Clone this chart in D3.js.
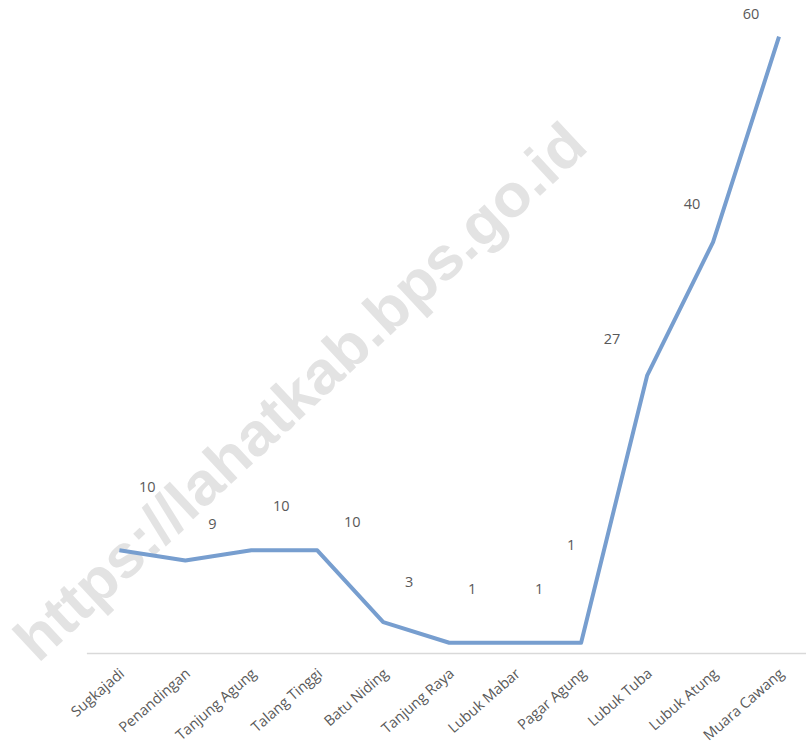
<!DOCTYPE html>
<html>
<head>
<meta charset="utf-8">
<script src="https://cdn.jsdelivr.net/npm/d3@7"></script>
<style>
  body { margin: 0; background: #fff; }
  svg { display: block; }
  .cat text { font-family: "Open Sans", "Noto Sans", sans-serif; font-size: 14.5px; fill: #595959; }
  .dlabel { font-family: "Open Sans", "Noto Sans", sans-serif; font-size: 14.5px; fill: #595959; }
</style>
</head>
<body>
<div id="chart"></div>
<script>
// chart data
var villages = ["Sugkajadi", "Penandingan", "Tanjung Agung", "Talang Tinggi", "Batu Niding",
  "Tanjung Raya", "Lubuk Mabar", "Pagar Agung", "Lubuk Tuba", "Lubuk Atung", "Muara Cawang"];
var counts = [10, 9, 10, 10, 3, 1, 1, 1, 27, 40, 60];

// data labels were dragged around by hand in the source, so keep their nudges here
var labelNudge = [[28, -63], [27, -37], [30, -44], [35, -28], [26, -40], [23, -54],
  [24, -54], [-10, -98], [-35, -37], [-21, -38], [-28, -23]];

var width = 806;
var height = 748;

var svg = d3.select("#chart")
  .append("svg")
  .attr("width", width)
  .attr("height", height);

// watermark behind everything
var wm = svg.append("text")
  .attr("transform", "translate(38,664) rotate(-43)")
  .attr("font-family", "Liberation Sans, Arial, sans-serif")
  .attr("font-weight", "bold")
  .attr("font-size", 60)
  .attr("fill", "#e3e3e3")
  .text("https://lahatkab.bps.go.id");
wm.attr("textLength", 755).attr("lengthAdjust", "spacingAndGlyphs");

// scales
var xScale = d3.scaleBand()
  .domain(villages)
  .range([86.4, 812]);

var yScale = d3.scaleLinear()
  .domain([0, 60])
  .range([653, 36.7]);

function cx(i) {
  return xScale(villages[i]) + xScale.bandwidth() / 2;
}

// category axis
var xAxis = d3.axisBottom(xScale).tickSize(0).tickPadding(0);
var gx = svg.append("g")
  .attr("class", "cat")
  .attr("transform", "translate(0,653)")
  .call(xAxis);
gx.select(".domain").attr("stroke", "#d9d9d9").attr("stroke-width", 1.3);
gx.selectAll(".tick text")
  .attr("text-anchor", "end")
  .attr("dy", 0)
  .attr("transform", "translate(6,22) rotate(-41)");

// the line
var line = d3.line()
  .x(function(d, i) { return cx(i); })
  .y(function(d) { return yScale(d); });

svg.append("path")
  .datum(counts)
  .attr("fill", "none")
  .attr("stroke", "#779ecf")
  .attr("stroke-width", 4)
  .attr("stroke-linejoin", "round")
  .attr("d", line);

// data labels
svg.selectAll(".dlabel")
  .data(counts)
  .enter()
  .append("text")
  .attr("class", "dlabel")
  .attr("text-anchor", "middle")
  .attr("x", function(d, i) { return cx(i) + labelNudge[i][0]; })
  .attr("y", function(d, i) { return yScale(d) + labelNudge[i][1] + 5; })
  .text(function(d) { return d; });
</script>
</body>
</html>
